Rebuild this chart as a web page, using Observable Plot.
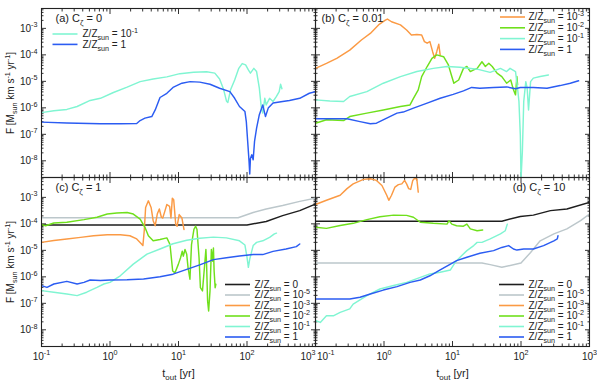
<!DOCTYPE html>
<html><head><meta charset="utf-8">
<script src="https://cdn.jsdelivr.net/npm/d3@7"></script>
<script src="https://cdn.jsdelivr.net/npm/@observablehq/plot@0.6"></script>
<style>html,body{margin:0;padding:0;background:#fff;}#chart{width:597px;height:382px;}</style>
</head><body><div id="chart"></div>
<script>
// ---- categories / labels ----
const seriesKeys = ["0", "1e-5", "1e-3", "1e-2", "1e-1", "1"];
const seriesLabels = ["Z/Z_{sun} = 0", "Z/Z_{sun} = 10^{-5}", "Z/Z_{sun} = 10^{-3}", "Z/Z_{sun} = 10^{-2}", "Z/Z_{sun} = 10^{-1}", "Z/Z_{sun} = 1"];
const seriesColors = ["#1e1e1e", "#bcc7cb", "#fb9a44", "#6fe01c", "#80f5d2", "#2b5cf2"];
const panelIds = ["a", "b", "c", "d"];
const panelTitles = ["(a) C_{ζ} = 0", "(b) C_{ζ} = 0.01", "(c) C_{ζ} = 1", "(d) C_{ζ} = 10"];
const panelFx = ["L", "R", "L", "R"];
const panelFy = ["T", "T", "B", "B"];
const panelLegendKeys = [["1e-1", "1"], ["1e-3", "1e-2", "1e-1", "1"], seriesKeys, seriesKeys];
const xTickValues = [0.1, 1, 10, 100, 1000];
const xTickLabels = ["10^{-1}", "10^{0}", "10^{1}", "10^{2}", "10^{3}"];
const yTickValues = [1e-8, 1e-7, 1e-6, 1e-5, 1e-4, 1e-3];
const yTickLabels = ["10^{-8}", "10^{-7}", "10^{-6}", "10^{-5}", "10^{-4}", "10^{-3}"];
const yLabel = "F [M_{sun} km s^{-1} yr^{-1}]";
const xLabel = "t_{out} [yr]";

// ---- series values: [log10 t_out, log10 F] ----
const a_Z1e1 = [[-1,-6.18],[-0.82,-6.11],[-0.63,-6.06],[-0.48,-5.95],[-0.29,-5.72],[-0.14,-5.64],[0.05,-5.42],[0.25,-5.22],[0.44,-5.01],[0.63,-4.91],[0.83,-4.83],[1.02,-4.71],[1.22,-4.66],[1.41,-4.64],[1.53,-4.69],[1.60,-4.91],[1.66,-5.32],[1.70,-5.74],[1.72,-5.80],[1.76,-5.32],[1.82,-4.95],[1.88,-4.51],[1.93,-4.33],[1.98,-4.38],[2.02,-4.57],[2.05,-4.69],[2.10,-4.51],[2.14,-4.63],[2.18,-5.26],[2.21,-6.01],[2.23,-6.20],[2.26,-5.64],[2.28,-5.89],[2.33,-5.64],[2.38,-5.76],[2.43,-5.57],[2.47,-5.39],[2.49,-5.11],[2.51,-5.28]];
const a_Z1 = [[-1,-6.54],[-0.63,-6.57],[-0.14,-6.60],[0.15,-6.60],[0.39,-6.59],[0.44,-6.48],[0.51,-6.39],[0.61,-6.33],[0.66,-6.08],[0.73,-5.61],[0.83,-5.45],[0.92,-5.23],[1.05,-5.07],[1.17,-5.01],[1.31,-5.03],[1.46,-5.11],[1.60,-5.26],[1.75,-5.39],[1.82,-5.64],[1.89,-5.95],[1.97,-6.14],[1.99,-6.52],[2.01,-7.27],[2.03,-8.02],[2.04,-8.50],[2.05,-7.91],[2.07,-7.77],[2.09,-7.96],[2.11,-7.27],[2.14,-6.77],[2.18,-6.26],[2.23,-5.89],[2.27,-6.33],[2.31,-6.01],[2.38,-5.82],[2.52,-5.76],[2.62,-5.72],[2.77,-5.64],[2.91,-5.45],[3.0,-5.39]];

const b_Z1e3 = [[-1,-4.51],[-0.84,-4.32],[-0.69,-4.13],[-0.50,-3.82],[-0.33,-3.44],[-0.20,-3.19],[-0.08,-2.87],[0.02,-2.69],[0.05,-2.65],[0.11,-2.75],[0.24,-2.87],[0.33,-3.06],[0.40,-3.25],[0.48,-3.23],[0.55,-3.25],[0.59,-3.50],[0.63,-3.56],[0.67,-3.50],[0.71,-3.88],[0.74,-4.13],[0.77,-3.88],[0.80,-3.60],[0.82,-4.00]];
const b_Z1e2 = [[-1,-6.58],[-0.84,-6.45],[-0.59,-6.48],[-0.50,-6.33],[-0.25,-6.20],[-0.01,-6.08],[0.24,-5.95],[0.38,-5.89],[0.43,-5.64],[0.50,-5.32],[0.55,-4.82],[0.63,-4.44],[0.70,-4.13],[0.77,-4.00],[0.87,-4.07],[0.94,-4.38],[0.99,-4.82],[1.02,-5.07],[1.09,-4.95],[1.16,-4.51],[1.21,-4.44],[1.26,-4.63],[1.31,-4.57],[1.36,-4.51],[1.43,-4.26],[1.48,-4.44],[1.53,-4.32],[1.58,-4.44],[1.65,-4.69],[1.72,-4.82],[1.79,-5.07],[1.85,-4.95],[1.89,-5.32],[1.92,-5.51],[1.94,-4.82],[1.95,-5.13]];
const b_Z1e1 = [[-1,-5.70],[-0.79,-5.74],[-0.59,-5.76],[-0.50,-5.57],[-0.25,-5.39],[-0.01,-5.07],[0.24,-4.82],[0.48,-4.63],[0.72,-4.51],[0.92,-4.44],[1.11,-4.47],[1.36,-4.54],[1.55,-4.66],[1.70,-4.51],[1.79,-4.63],[1.84,-4.51],[1.92,-4.63],[1.95,-5.26],[1.97,-5.76],[1.99,-7.02],[2.00,-8.70],[2.02,-7.65],[2.04,-5.76],[2.07,-5.01],[2.09,-5.26],[2.11,-6.08],[2.14,-5.01],[2.18,-4.88],[2.28,-4.82],[2.40,-4.76]];
const b_Z1 = [[-1,-6.41],[-0.74,-6.41],[-0.54,-6.41],[-0.35,-6.52],[-0.20,-6.60],[-0.11,-6.58],[0.04,-6.39],[0.19,-6.20],[0.28,-6.16],[0.43,-6.01],[0.63,-5.82],[0.82,-5.64],[1.01,-5.49],[1.16,-5.36],[1.28,-5.23],[1.40,-5.26],[1.60,-5.23],[1.79,-5.21],[1.92,-5.28],[1.99,-5.23],[2.18,-5.23],[2.38,-5.26],[2.57,-5.16],[2.72,-5.07],[2.84,-4.98]];

const c_Z0 = [[-1,-4.04],[2.0,-4.04],[2.28,-3.91],[2.52,-3.69],[2.77,-3.50],[3.0,-3.25]];
const c_Z1e5 = [[-1,-3.77],[1.87,-3.77],[2.09,-3.57],[2.28,-3.44],[2.52,-3.31],[2.77,-3.15],[3.0,-3.03]];
const c_Z1e3 = [[-1,-4.70],[-0.82,-4.63],[-0.63,-4.57],[-0.43,-4.51],[-0.24,-4.45],[-0.04,-4.41],[0.15,-4.41],[0.29,-4.45],[0.39,-4.57],[0.46,-4.76],[0.48,-4.82],[0.50,-4.26],[0.52,-3.38],[0.56,-3.13],[0.60,-3.38],[0.63,-3.88],[0.66,-4.07],[0.69,-3.63],[0.72,-3.44],[0.75,-3.75],[0.77,-3.78],[0.80,-3.53],[0.83,-3.27],[0.87,-3.34],[0.89,-3.78],[0.91,-3.03],[0.93,-3.09],[0.96,-4.03],[0.98,-4.09],[1.01,-3.65],[1.05,-3.78],[1.08,-4.21]];
const c_Z1e2 = [[-1,-4.03],[-0.94,-4.07],[-0.82,-3.97],[-0.63,-3.94],[-0.38,-3.84],[-0.19,-3.75],[-0.04,-3.63],[0.10,-3.59],[0.25,-3.57],[0.34,-3.63],[0.44,-3.82],[0.51,-4.13],[0.56,-4.45],[0.63,-4.64],[0.73,-4.59],[0.83,-4.53],[0.876,-4.78],[0.915,-5.78],[0.949,-5.85],[0.997,-5.53],[1.03,-5.28],[1.055,-5.03],[1.07,-5.22],[1.095,-4.97],[1.12,-5.15],[1.14,-5.66],[1.167,-6.09],[1.19,-4.78],[1.225,-4.21],[1.25,-4.09],[1.27,-4.21],[1.30,-5.28],[1.32,-6.41],[1.35,-6.53],[1.37,-5.91],[1.40,-4.97],[1.41,-5.53],[1.425,-6.91],[1.44,-7.29],[1.46,-6.53],[1.48,-4.97],[1.50,-5.41],[1.51,-4.91],[1.52,-5.78],[1.535,-6.41],[1.545,-6.28]];
const c_Z1e1 = [[-1,-6.52],[-0.82,-6.58],[-0.63,-6.65],[-0.48,-6.71],[-0.34,-6.58],[-0.19,-6.40],[-0.09,-6.27],[0.0,-6.21],[0.15,-5.96],[0.34,-5.52],[0.54,-5.14],[0.73,-4.95],[0.92,-4.75],[1.12,-4.62],[1.31,-4.54],[1.51,-4.50],[1.70,-4.53],[1.89,-4.64],[1.97,-4.80],[2.00,-5.26],[2.02,-5.64],[2.04,-5.33],[2.09,-4.82],[2.14,-4.70],[2.23,-4.64],[2.33,-4.51],[2.40,-4.38],[2.43,-4.35]];
const c_Z1 = [[-1,-6.33],[-0.92,-6.40],[-0.82,-6.27],[-0.63,-6.17],[-0.48,-6.27],[-0.38,-6.21],[-0.29,-6.12],[-0.14,-6.14],[0.0,-6.12],[0.25,-6.11],[0.49,-6.08],[0.73,-6.0],[0.92,-5.90],[1.12,-5.72],[1.31,-5.55],[1.51,-5.35],[1.70,-5.28],[1.89,-5.21],[2.09,-5.16],[2.23,-5.16],[2.38,-5.04],[2.57,-4.95],[2.72,-4.86],[2.77,-4.76]];

const d_Z0 = [[-1,-3.9],[1.72,-3.9],[1.99,-3.72],[2.18,-3.67],[2.43,-3.50],[2.67,-3.44],[3.0,-3.19]];
const d_Z1e5 = [[-1,-5.48],[1.43,-5.48],[1.55,-5.54],[1.72,-5.64],[2.0,-5.48],[2.14,-5.08],[2.28,-4.64],[2.48,-4.38],[2.67,-4.19],[2.87,-3.88],[3.0,-3.63]];
const d_Z1e3 = [[-1,-3.27],[-0.84,-3.11],[-0.64,-2.92],[-0.54,-2.67],[-0.45,-2.49],[-0.30,-2.32],[-0.20,-2.30],[-0.11,-2.36],[-0.03,-2.55],[0.04,-2.92],[0.07,-3.11],[0.11,-2.92],[0.16,-2.61],[0.21,-2.52],[0.26,-2.49],[0.30,-2.36],[0.33,-2.49],[0.36,-2.67],[0.39,-2.70],[0.42,-2.36],[0.45,-2.27],[0.48,-2.32],[0.50,-2.80]];
const d_Z1e2 = [[-1,-4.13],[-0.84,-4.17],[-0.64,-4.06],[-0.45,-3.98],[-0.25,-3.84],[-0.06,-3.73],[0.14,-3.67],[0.33,-3.68],[0.43,-3.75],[0.53,-3.94],[0.72,-3.98],[0.92,-4.01],[0.95,-3.88],[0.99,-4.01],[1.06,-4.07],[1.16,-4.09],[1.21,-4.01],[1.26,-4.19],[1.36,-4.26],[1.44,-4.23]];
const d_Z1e1 = [[-1,-7.65],[-0.93,-7.72],[-0.84,-7.47],[-0.74,-7.47],[-0.64,-7.34],[-0.50,-7.21],[-0.45,-7.03],[-0.25,-6.71],[-0.06,-6.46],[0.14,-6.33],[0.33,-6.21],[0.53,-6.02],[0.67,-5.89],[0.82,-5.83],[0.97,-5.74],[1.04,-5.45],[1.11,-5.26],[1.21,-5.01],[1.31,-4.82],[1.36,-4.70],[1.43,-4.70],[1.55,-4.57],[1.70,-4.38],[1.77,-4.26],[1.80,-4.01]];
const d_Z1 = [[-1,-6.84],[-0.74,-6.84],[-0.50,-6.84],[-0.35,-6.77],[-0.20,-6.65],[-0.01,-6.50],[0.19,-6.37],[0.38,-6.21],[0.53,-6.12],[0.67,-5.96],[0.82,-5.74],[0.97,-5.52],[1.06,-5.39],[1.21,-5.26],[1.40,-5.11],[1.60,-5.01],[1.72,-4.89],[1.82,-4.82],[1.89,-4.95],[1.94,-4.99],[2.04,-4.95],[2.18,-4.95],[2.33,-4.82],[2.48,-4.64],[2.53,-4.57],[2.54,-4.45]];

const seriesTable = [
  ["a", "1e-1", a_Z1e1], ["a", "1", a_Z1],
  ["b", "1e-3", b_Z1e3], ["b", "1e-2", b_Z1e2], ["b", "1e-1", b_Z1e1], ["b", "1", b_Z1],
  ["c", "0", c_Z0], ["c", "1e-5", c_Z1e5], ["c", "1e-3", c_Z1e3], ["c", "1e-2", c_Z1e2], ["c", "1e-1", c_Z1e1], ["c", "1", c_Z1],
  ["d", "0", d_Z0], ["d", "1e-5", d_Z1e5], ["d", "1e-3", d_Z1e3], ["d", "1e-2", d_Z1e2], ["d", "1e-1", d_Z1e1], ["d", "1", d_Z1]
];

// ---- build table ----
const rows = [];
for (const [p, key, arr] of seriesTable) {
  const i = panelIds.indexOf(p);
  for (const [lt, lf] of arr) rows.push({fx: panelFx[i], fy: panelFy[i], key, t: 10 ** lt, F: 10 ** lf});
}
const xMinor = [], yMinor = [];
for (let e = -1; e < 3; e++) for (let m = 2; m <= 9; m++) xMinor.push(m * 10 ** e);
for (let e = -9; e < -2; e++) for (let m = 2; m <= 9; m++) { const v = m * 10 ** e; if (v > 10 ** -8.63 && v < 10 ** -2.25) yMinor.push(v); }

const ink = "#222";
const tickOpts = {stroke: "#333", fill: "none", label: null, facetAnchor: null};
const marks = [];
for (const anchor of ["bottom", "top"]) {
  marks.push(Plot.axisX(xTickValues, {anchor, tickSize: -5, ...tickOpts}));
  marks.push(Plot.axisX(xMinor, {anchor, tickSize: -2.5, ...tickOpts}));
}
for (const anchor of ["left", "right"]) {
  marks.push(Plot.axisY(yTickValues, {anchor, tickSize: -5, ...tickOpts}));
  marks.push(Plot.axisY(yMinor, {anchor, tickSize: -2.5, ...tickOpts}));
}
marks.push(Plot.line(rows, {x: "t", y: "F", z: "key", stroke: "key", fx: "fx", fy: "fy", strokeWidth: 1.45, clip: true}));
marks.push(Plot.frame({stroke: ink, strokeWidth: 1.1}));
// y tick labels
marks.push(Plot.axisY(yTickValues, {anchor: "left", tickSize: 0, tickPadding: 4, label: null, fill: ink, fontSize: 10,
  tickFormat: v => yTickLabels[yTickValues.indexOf(v)]}));
// x tick labels
const xlab = [];
for (const fx of ["L", "R"]) xTickValues.forEach((v, i) => xlab.push({fx, fy: "B", t: v, label: xTickLabels[i],
  anchor: (fx === "L" && i === 4) ? "end" : (fx === "R" && i === 0) ? "start" : "middle"}));
for (const [anc, dx] of [["middle", 0], ["end", 0], ["start", 1.5]]) {
  marks.push(Plot.text(xlab.filter(d => d.anchor === anc), {x: "t", fx: "fx", fy: "fy", text: "label", frameAnchor: "bottom",
    textAnchor: anc, lineAnchor: "top", dy: 6, dx, fontSize: 10, fill: ink}));
}
// axis titles
marks.push(Plot.text([{fx: "L", fy: "B"}, {fx: "R", fy: "B"}], {fx: "fx", fy: "fy", text: () => xLabel, frameAnchor: "bottom",
  textAnchor: "middle", lineAnchor: "middle", dy: 27, fontSize: 11, fill: ink}));
marks.push(Plot.text([{fx: "L", fy: "T"}, {fx: "L", fy: "B"}], {fx: "fx", fy: "fy", text: () => yLabel, frameAnchor: "left",
  rotate: -90, textAnchor: "middle", lineAnchor: "middle", dx: -31, fontSize: 10, fill: ink}));
// panel titles
const titleLayout = {a: ["top-left", "start", 14], b: ["top-left", "start", 6], c: ["top-left", "start", 14], d: ["top-right", "end", -24]};
panelIds.forEach((p, i) => {
  const [fa, ta, dx] = titleLayout[p];
  marks.push(Plot.text([{fx: panelFx[i], fy: panelFy[i]}], {fx: "fx", fy: "fy", text: () => panelTitles[i], frameAnchor: fa,
    textAnchor: ta, lineAnchor: "middle", dx, dy: 10, fontSize: 11, fill: ink}));
});
// legends
const legendLayout = {
  a: {fa: "top-left", textDx: 41, lineDx: 23.5, dy0: 25.5, step: 10.4, fromBottom: false},
  b: {fa: "top-right", textDx: -61, lineDx: -77, dy0: 8.5, step: 10.8, fromBottom: false},
  c: {fa: "bottom-right", textDx: -61, lineDx: -78, dy0: -9.5, step: 10.5, fromBottom: true},
  d: {fa: "bottom-right", textDx: -61, lineDx: -78, dy0: -9.5, step: 10.5, fromBottom: true}
};
const lineSymbol = {draw(ctx) { ctx.moveTo(-12.5, 0); ctx.lineTo(12.5, 0); }};
panelIds.forEach((p, i) => {
  const L = legendLayout[p], keys = panelLegendKeys[i], n = keys.length;
  keys.forEach((k, j) => {
    const dy = L.fromBottom ? L.dy0 - (n - 1 - j) * L.step : L.dy0 + j * L.step;
    const si = seriesKeys.indexOf(k);
    const d = [{fx: panelFx[i], fy: panelFy[i]}];
    marks.push(Plot.dot(d, {fx: "fx", fy: "fy", frameAnchor: L.fa, dx: L.lineDx, dy, symbol: lineSymbol,
      stroke: seriesColors[si], fill: "none", strokeWidth: 1.6}));
    marks.push(Plot.text(d, {fx: "fx", fy: "fy", frameAnchor: L.fa, dx: L.textDx, dy, text: () => seriesLabels[si],
      textAnchor: "start", lineAnchor: "middle", fontSize: 10, fill: ink}));
  });
});

const chart = Plot.plot({
  width: 597, height: 382,
  marginLeft: 41, marginRight: 8, marginTop: 7, marginBottom: 36,
  style: {fontFamily: "'Liberation Sans', Arial, Helvetica, sans-serif", fontSize: "10px", color: ink, background: "#fff"},
  x: {type: "log", domain: [0.1, 1000]},
  y: {type: "log", domain: [10 ** -8.63, 10 ** -2.25]},
  fx: {domain: ["L", "R"], padding: 0, axis: null},
  fy: {domain: ["T", "B"], padding: 0, axis: null},
  color: {domain: seriesKeys, range: seriesColors},
  marks
});
document.getElementById("chart").appendChild(chart);

// turn _{..} and ^{..} into real sub/superscript tspans
function richify(root) {
  root.querySelectorAll("text").forEach(el => {
    const s = el.textContent;
    if (!/[_^]\{/.test(s)) return;
    const fs = parseFloat(getComputedStyle(el).fontSize) || 10;
    const parts = [];
    const re = /([_^])\{([^}]*)\}/g;
    let last = 0, m;
    while ((m = re.exec(s))) {
      if (m.index > last) parts.push([s.slice(last, m.index), 0]);
      parts.push([m[2], m[1] === "_" ? 1 : -1]);
      last = re.lastIndex;
    }
    if (last < s.length) parts.push([s.slice(last), 0]);
    while (el.firstChild) el.removeChild(el.firstChild);
    let cur = 0;
    for (const [t, mode] of parts) {
      const ts = document.createElementNS("http://www.w3.org/2000/svg", "tspan");
      const target = mode === 1 ? 0.3 * fs : mode === -1 ? -0.42 * fs : 0;
      ts.setAttribute("dy", (target - cur).toFixed(2));
      cur = target;
      if (mode) ts.setAttribute("font-size", (0.72 * fs).toFixed(2));
      ts.textContent = t;
      el.appendChild(ts);
    }
  });
}
richify(chart);
</script></body></html>
